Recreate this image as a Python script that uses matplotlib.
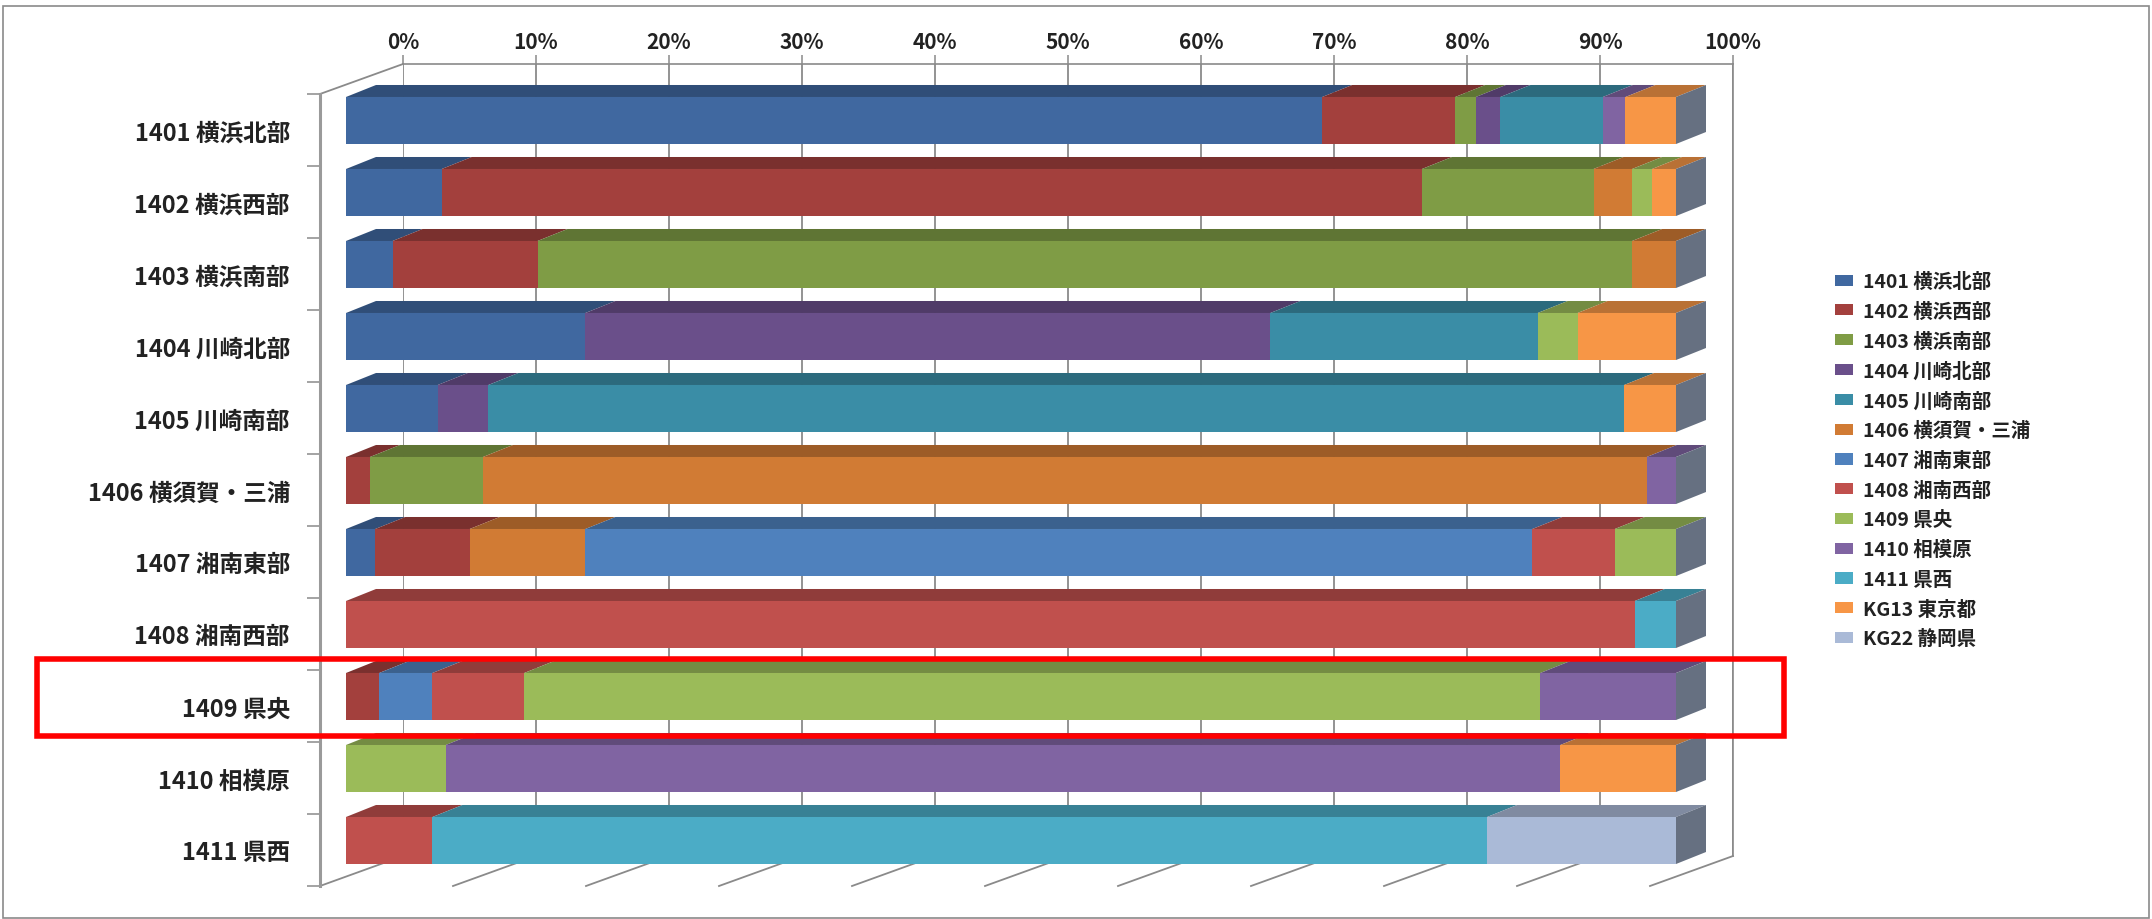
import matplotlib
matplotlib.use('Agg')
import matplotlib.pyplot as plt
import numpy as np
import matplotlib.colors as mcolors
import matplotlib.transforms as mtransforms
from matplotlib.patches import Polygon, Rectangle, Patch
from matplotlib.lines import Line2D

plt.rcParams['font.family'] = ['Noto Sans CJK JP', 'DejaVu Sans']

# ---------------- data ----------------
categories = ['1401 横浜北部', '1402 横浜西部', '1403 横浜南部', '1404 川崎北部',
              '1405 川崎南部', '1406 横須賀・三浦', '1407 湘南東部', '1408 湘南西部',
              '1409 県央', '1410 相模原', '1411 県西']
series_names = ['1401 横浜北部', '1402 横浜西部', '1403 横浜南部', '1404 川崎北部',
                '1405 川崎南部', '1406 横須賀・三浦', '1407 湘南東部', '1408 湘南西部',
                '1409 県央', '1410 相模原', '1411 県西', 'KG13 東京都', 'KG22 静岡県']

s1401 = [73.4, 7.2, 3.5, 18.0, 6.9, 0, 2.2, 0, 0, 0, 0]
s1402 = [10.0, 73.7, 10.9, 0, 0, 1.8, 7.1, 0, 2.5, 0, 0]
s1403 = [1.55, 12.9, 82.3, 0, 0, 8.5, 0, 0, 0, 0, 0]
s1404 = [1.85, 0, 0, 51.5, 3.8, 0, 0, 0, 0, 0, 0]
s1405 = [7.7, 0, 0, 20.1, 85.4, 0, 0, 0, 0, 0, 0]
s1406 = [0, 2.9, 3.3, 0, 0, 87.5, 8.7, 0, 0, 0, 0]
s1407 = [0, 0, 0, 0, 0, 0, 71.2, 0, 4.0, 0, 0]
s1408 = [0, 0, 0, 0, 0, 0, 6.2, 96.9, 6.9, 0, 6.5]
s1409 = [0, 1.5, 0, 3.0, 0, 0, 4.6, 0, 76.4, 7.5, 0]
s1410 = [1.7, 0, 0, 0, 0, 2.2, 0, 0, 10.2, 83.8, 0]
s1411 = [0, 0, 0, 0, 0, 0, 0, 3.1, 0, 0, 79.3]
sKG13 = [3.8, 1.8, 0, 7.4, 3.9, 0, 0, 0, 0, 8.7, 0]
sKG22 = [0, 0, 0, 0, 0, 0, 0, 0, 0, 0, 14.2]

series_values = [s1401, s1402, s1403, s1404, s1405, s1406, s1407, s1408,
                 s1409, s1410, s1411, sKG13, sKG22]
colors = ['#4068A0', '#A3403D', '#7F9C45', '#6A4F8A', '#3A8DA6', '#D17B34',
          '#4F81BD', '#C0504D', '#9BBB59', '#8064A2', '#4BACC6', '#F79646', '#AABAD7']
tick_values = list(range(0, 101, 10))
tick_labels = [f'{v}%' for v in tick_values]
highlight = '1409 県央'

# ---------------- layout (pixels) ----------------
W, H = 2152, 920
fig = plt.figure(figsize=(W / 100, H / 100), dpi=100)
fig.patch.set_facecolor('white')


def fx(px):
    return px / W


def fy(py):
    return 1 - py / H


FL, FR, FT, FB = 320, 1650, 95, 887          # front plane of the 3D box
BACK = np.array([83.0, 30.0])                 # offset of back wall
FRONT = np.array([26.0, 9.5])                 # offset of bar front faces
DEPTH = np.array([30.0, 12.0])                # bar depth
BAR_H = 0.653
GRAY = '#8a8a8a'

ax_back = fig.add_axes([fx(FL + BACK[0]), fy(FB - BACK[1]), (FR - FL) / W, (FB - FT) / H])
ax = fig.add_axes([fx(FL), fy(FB), (FR - FL) / W, (FB - FT) / H])

n = len(categories)
rows = np.arange(n)
for a in (ax_back, ax):
    a.set_xlim(0, 100)
    a.set_ylim(n - 0.5, -0.5)
    a.set_autoscale_on(False)

# back wall
ax_back.set_facecolor('white')
for s in ['left', 'bottom']:
    ax_back.spines[s].set_visible(False)
for s in ['top', 'right']:
    ax_back.spines[s].set_color(GRAY)
    ax_back.spines[s].set_linewidth(1.2)
ax_back.xaxis.tick_top()
ax_back.set_xticks(tick_values)
ax_back.set_xticklabels(tick_labels, fontsize=15, fontweight='bold', color='#222222')
ax_back.tick_params(axis='x', direction='out', length=6.5, width=1.1, color=GRAY, pad=2)
ax_back.set_yticks([])
ax_back.grid(axis='x', color=GRAY, lw=1.3)

# main (front) axes
ax.set_facecolor('none')
for s in ['right', 'top', 'bottom']:
    ax.spines[s].set_visible(False)
ax.spines['left'].set_color('#9a9a9a')
ax.spines['left'].set_linewidth(2.2)
ax.set_xticks([])
ax.set_yticks(rows)
ax.set_yticklabels(categories, fontsize=17, fontweight='bold', color='#222222')
ax.set_yticks(np.arange(-0.5, n, 1), minor=True)
ax.tick_params(axis='y', which='major', length=0, pad=21.6)
ax.tick_params(axis='y', which='minor', length=9.4, width=1.1, color=GRAY)

data = np.array(series_values, dtype=float)
pct = data / data.sum(axis=0) * 100
lefts = np.vstack([np.zeros(n), np.cumsum(pct, axis=0)[:-1]])

tr_front = ax.transData + mtransforms.ScaledTranslation(FRONT[0] / 100, FRONT[1] / 100,
                                                        fig.dpi_scale_trans)
ident = mtransforms.IdentityTransform()


def disp(x, y):
    return np.array(ax.transData.transform((x, y)), dtype=float)


def darker(c, f=0.75):
    r, g, b = mcolors.to_rgb(c)
    return (r * f, g * f, b * f)


# floor diagonals and left top edge
for k in tick_values:
    p0 = disp(k, n - 0.5)
    p1 = p0 + BACK
    ax.add_line(Line2D([p0[0], p1[0]], [p0[1], p1[1]], transform=ident, color=GRAY,
                       lw=1.3, zorder=1, clip_on=False))
p0 = disp(0, -0.5)
p1 = p0 + BACK
ax.add_line(Line2D([p0[0], p1[0]], [p0[1], p1[1]], transform=ident, color=GRAY,
                   lw=1.3, zorder=1, clip_on=False))

# front faces
for i, col in enumerate(colors):
    ax.barh(rows, pct[i], left=lefts[i], height=BAR_H, color=col, linewidth=0,
            transform=tr_front, zorder=4, clip_on=False)

# top faces
for r in rows:
    yt = r - BAR_H / 2
    for i, col in enumerate(colors):
        w = pct[i, r]
        if w <= 0:
            continue
        x0, x1 = lefts[i, r], lefts[i, r] + w
        q0 = disp(x0, yt) + FRONT
        q1 = disp(x1, yt) + FRONT
        poly = Polygon([q0, q1, q1 + DEPTH, q0 + DEPTH], closed=True, transform=ident,
                       facecolor=darker(col), edgecolor='none', zorder=3, clip_on=False)
        ax.add_patch(poly)
    # right side face (last series end)
    end = pct[:, r].sum()
    q0 = disp(end, yt) + FRONT
    q1 = disp(end, r + BAR_H / 2) + FRONT
    side = Polygon([q0, q1, q1 + DEPTH, q0 + DEPTH], closed=True, transform=ident,
                   facecolor=darker(colors[-1], 0.6), edgecolor='none', zorder=3,
                   clip_on=False)
    ax.add_patch(side)

# legend
handles = [Patch(facecolor=c, edgecolor='none') for c in colors]
fig.legend(handles, series_names, loc='upper left', bbox_to_anchor=(fx(1835), fy(273)),
           frameon=False, prop={'size': 14, 'weight': 'bold'}, handlelength=0.95,
           handleheight=0.5, handletextpad=0.5, labelspacing=0.55, borderpad=0,
           borderaxespad=0, labelcolor='#222222')

# highlight box around 1409
hi = categories.index(highlight)
blend = mtransforms.blended_transform_factory(fig.transFigure, ax.transData)
ax.add_patch(Rectangle((fx(37), hi - 0.653), fx(1784) - fx(37), 1.07, transform=blend,
                       fill=False, edgecolor='#FF0000', lw=4, zorder=10, clip_on=False))

# outer chart border
fig.add_artist(Rectangle((fx(3), fy(919)), (2149 - 3) / W, (919 - 7) / H,
                         transform=fig.transFigure, fill=False, edgecolor=GRAY, lw=1.2))

fig.savefig('out.png', dpi=100)
